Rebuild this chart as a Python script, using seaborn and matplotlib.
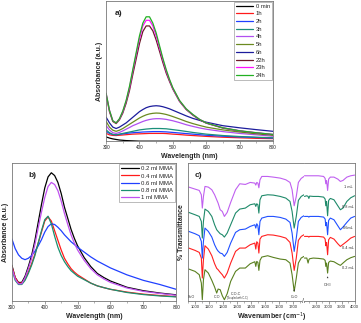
import numpy as np
import pandas as pd
import matplotlib
matplotlib.use("Agg")
import matplotlib.pyplot as plt
from matplotlib.ticker import MultipleLocator
import seaborn as sns

sns.set_theme(style="white")
plt.rcParams["font.family"] = ["Liberation Sans", "DejaVu Sans"]

# ---------------- panel a: UV-vis vs reaction time ----------------
wl_a = [300, 310, 320, 330, 340, 350, 360, 370, 380, 390, 400, 410, 420, 430, 440, 450, 460, 470, 480, 490,
        500, 520, 540, 560, 580, 600, 650, 700, 750, 800]
abs_0min = [0.03, 0.022, 0.016, 0.012, 0.008, 0.006, 0.004, 0.003, 0.002, 0.001] + [0.0] * 20
abs_1h = [0.055, 0.045, 0.041, 0.04, 0.042, 0.044, 0.046, 0.048, 0.05, 0.051, 0.052, 0.053, 0.054, 0.055, 0.055,
          0.055, 0.055, 0.055, 0.054, 0.052, 0.05, 0.047, 0.043, 0.04, 0.037, 0.034, 0.028, 0.024, 0.02, 0.018]
abs_2h = [0.07, 0.055, 0.047, 0.045, 0.048, 0.052, 0.055, 0.058, 0.06, 0.062, 0.063, 0.065, 0.066, 0.067, 0.068,
          0.068, 0.068, 0.067, 0.066, 0.064, 0.062, 0.058, 0.054, 0.05, 0.046, 0.042, 0.035, 0.03, 0.026, 0.022]
abs_3h = [0.08, 0.06, 0.048, 0.045, 0.05, 0.055, 0.06, 0.065, 0.07, 0.075, 0.08, 0.083, 0.086, 0.088, 0.09,
          0.09, 0.09, 0.089, 0.088, 0.085, 0.082, 0.076, 0.069, 0.062, 0.056, 0.05, 0.04, 0.033, 0.028, 0.024]
abs_4h = [0.11, 0.08, 0.06, 0.055, 0.062, 0.073, 0.085, 0.097, 0.11, 0.12, 0.13, 0.14, 0.148, 0.154, 0.158,
          0.16, 0.16, 0.158, 0.155, 0.15, 0.145, 0.132, 0.117, 0.105, 0.094, 0.085, 0.068, 0.055, 0.045, 0.035]
abs_5h = [0.14, 0.10, 0.078, 0.07, 0.078, 0.09, 0.105, 0.12, 0.135, 0.15, 0.165, 0.177, 0.187, 0.194, 0.198,
          0.2, 0.199, 0.195, 0.19, 0.183, 0.175, 0.158, 0.14, 0.125, 0.112, 0.1, 0.08, 0.065, 0.052, 0.042]
abs_6h = [0.17, 0.13, 0.1, 0.09, 0.1, 0.115, 0.13, 0.15, 0.17, 0.19, 0.21, 0.225, 0.238, 0.246, 0.25,
          0.252, 0.25, 0.245, 0.238, 0.23, 0.22, 0.2, 0.18, 0.162, 0.148, 0.135, 0.11, 0.095, 0.082, 0.07]
abs_22h = [0.33, 0.21, 0.14, 0.125, 0.152, 0.2, 0.27, 0.36, 0.475, 0.585, 0.695, 0.78, 0.82, 0.82, 0.785,
           0.72, 0.64, 0.56, 0.485, 0.425, 0.37, 0.283, 0.225, 0.185, 0.152, 0.128, 0.093, 0.072, 0.058, 0.046]
abs_23h = [0.34, 0.22, 0.145, 0.13, 0.158, 0.21, 0.285, 0.38, 0.5, 0.615, 0.73, 0.82, 0.86, 0.86, 0.82,
           0.75, 0.665, 0.58, 0.5, 0.435, 0.375, 0.287, 0.228, 0.188, 0.155, 0.13, 0.095, 0.074, 0.06, 0.048]
abs_24h = [0.34, 0.22, 0.145, 0.13, 0.16, 0.215, 0.29, 0.39, 0.51, 0.63, 0.75, 0.84, 0.885, 0.885, 0.84,
           0.77, 0.68, 0.59, 0.51, 0.44, 0.38, 0.29, 0.23, 0.19, 0.155, 0.13, 0.095, 0.074, 0.06, 0.048]
times = ["0 min", "1h", "2h", "3h", "4h", "5h", "6h", "22h", "23h", "24h"]
colors_a = ["black", "#ff1a1a", "#1f3fff", "#1a8f7a", "#b050f0", "#6b8a20", "#1c1c9c", "#6e1a2a", "#ff10ff", "#22b022"]

# ---------------- panel b: UV-vis vs MMA volume ----------------
wl_b = wl_a
abs_02 = [0.26, 0.17, 0.135, 0.135, 0.18, 0.25, 0.33, 0.44, 0.57, 0.70, 0.82, 0.90, 0.93, 0.91, 0.86,
          0.78, 0.68, 0.60, 0.52, 0.455, 0.40, 0.315, 0.25, 0.20, 0.17, 0.145, 0.10, 0.075, 0.058, 0.045]
abs_04 = [0.25, 0.17, 0.13, 0.13, 0.16, 0.21, 0.27, 0.34, 0.42, 0.50, 0.58, 0.61, 0.58, 0.51, 0.44,
          0.37, 0.31, 0.27, 0.235, 0.21, 0.19, 0.16, 0.13, 0.11, 0.097, 0.085, 0.065, 0.05, 0.04, 0.032]
abs_06 = [0.45, 0.38, 0.335, 0.31, 0.30, 0.31, 0.33, 0.36, 0.40, 0.445, 0.50, 0.54, 0.56, 0.555, 0.535,
          0.51, 0.48, 0.455, 0.43, 0.41, 0.39, 0.355, 0.32, 0.29, 0.265, 0.24, 0.19, 0.15, 0.12, 0.085]
abs_08 = [0.23, 0.15, 0.12, 0.12, 0.15, 0.20, 0.26, 0.33, 0.42, 0.51, 0.59, 0.615, 0.56, 0.47, 0.39,
          0.33, 0.285, 0.25, 0.22, 0.2, 0.18, 0.155, 0.13, 0.11, 0.097, 0.085, 0.062, 0.047, 0.037, 0.03]
abs_10 = [0.24, 0.16, 0.125, 0.125, 0.17, 0.235, 0.31, 0.41, 0.53, 0.645, 0.75, 0.83, 0.86, 0.845, 0.80,
          0.725, 0.635, 0.555, 0.48, 0.42, 0.37, 0.295, 0.235, 0.19, 0.16, 0.135, 0.095, 0.07, 0.055, 0.042]
mma = ["0.2 ml MMA", "0.4 ml MMA", "0.6 ml MMA", "0.8 ml MMA", "1 ml MMA"]
colors_b = ["black", "#ff1a1a", "#2040ff", "#1a9070", "#c050f0"]

# ---------------- panel c: FTIR (offset, arb. units) ----------------
wn_left = [955, 1000, 1030, 1045, 1052, 1060, 1071, 1095, 1120, 1140, 1155, 1165, 1180, 1195, 1210, 1230,
           1255, 1290, 1320, 1360, 1395, 1428, 1435, 1442, 1450, 1457, 1465, 1478, 1520, 1560, 1610, 1650,
           1680, 1695, 1710, 1725, 1740, 1760, 1780]
t_02_left = [102, 95, 85, 60, 10, 70, 100, 90, 68, 48, 30, 42, 40, 22, 10, 28, 65, 95, 105, 105, 118, 124, 110,
             125, 122, 98, 128, 138, 142, 137, 132, 130, 120, 85, 35, 75, 120, 135, 140]
t_04_left = [165, 158, 152, 135, 75, 130, 172, 162, 142, 118, 104, 100, 92, 85, 75, 90, 120, 155, 165, 165, 175,
             180, 162, 184, 180, 150, 192, 200, 205, 204, 200, 195, 182, 150, 98, 135, 188, 200, 205]
t_06_left = [215, 208, 202, 185, 135, 185, 225, 215, 198, 175, 162, 156, 150, 148, 140, 152, 180, 212, 220, 222,
             230, 235, 225, 238, 232, 205, 245, 255, 260, 260, 257, 252, 242, 210, 155, 195, 245, 257, 262]
t_08_left = [272, 265, 260, 245, 195, 245, 282, 275, 260, 235, 220, 215, 208, 205, 198, 210, 235, 270, 282, 285,
             295, 298, 290, 298, 295, 270, 310, 322, 325, 324, 320, 315, 305, 275, 225, 260, 308, 320, 325]
t_10_left = [348, 342, 338, 325, 285, 320, 350, 348, 340, 325, 310, 300, 280, 275, 260, 272, 302, 340, 358, 356,
             362, 360, 354, 362, 360, 346, 370, 380, 380, 378, 375, 370, 362, 340, 292, 320, 362, 374, 380]

wn_right = [2060, 2150, 2200, 2230, 2260, 2400, 2600, 2800, 2860, 2885, 2915, 2955, 2995, 3060, 3200, 3350,
            3450, 3550, 3700, 3850, 4000]
t_02_right = [135, 135, 120, 130, 133, 135, 134, 132, 128, 110, 120, 90, 122, 126, 124, 117, 113, 120, 130, 136, 140]
t_04_right = [200, 200, 200, 198, 200, 200, 200, 198, 192, 172, 182, 145, 190, 197, 192, 178, 170, 176, 185, 195, 200]
t_06_right = [260, 260, 260, 258, 260, 260, 260, 258, 252, 232, 242, 205, 248, 255, 250, 232, 220, 228, 242, 255, 260]
t_08_right = [320, 322, 320, 314, 321, 320, 320, 318, 312, 292, 305, 262, 308, 314, 310, 292, 280, 285, 305, 316, 322]
t_10_right = [382, 382, 382, 382, 382, 382, 382, 380, 374, 358, 368, 338, 372, 378, 378, 372, 365, 368, 378, 382, 384]
samples = ["0.2 mL", "0.4 mL", "0.6mL", "0.8 mL", "1 mL"]
label_pos = [105, 165, 225, 287, 348]
colors_c = ["#5a8020", "#ff2020", "#2050ff", "#1f8a6a", "#c060f0"]

# long-form tables
df_a = pd.concat([pd.DataFrame({"wavelength": wl_a, "absorbance": v, "time": t})
                  for t, v in zip(times, [abs_0min, abs_1h, abs_2h, abs_3h, abs_4h, abs_5h, abs_6h,
                                          abs_22h, abs_23h, abs_24h])])
df_b = pd.concat([pd.DataFrame({"wavelength": wl_b, "absorbance": v, "sample": s})
                  for s, v in zip(mma, [abs_02, abs_04, abs_06, abs_08, abs_10])])
left_vals = [t_02_left, t_04_left, t_06_left, t_08_left, t_10_left]
right_vals = [t_02_right, t_04_right, t_06_right, t_08_right, t_10_right]
df_cl = pd.concat([pd.DataFrame({"wn": wn_left, "T": v, "sample": s}) for s, v in zip(samples, left_vals)])
df_cr = pd.concat([pd.DataFrame({"wn": wn_right, "T": v, "sample": s}) for s, v in zip(samples, right_vals)])

fig = plt.figure(figsize=(3.61, 3.23), dpi=100)
ax_a = fig.add_axes([0.294, 0.563, 0.462, 0.435])
ax_b = fig.add_axes([0.033, 0.068, 0.455, 0.427])
ax_c1 = fig.add_axes([0.521, 0.068, 0.321, 0.427])
ax_c2 = fig.add_axes([0.842, 0.068, 0.141, 0.427])

spine_col = "#777777"
tick_fs = 3.4
lab_fs = 5


def style(ax):
    for s in ax.spines.values():
        s.set_color(spine_col)
        s.set_linewidth(0.6)
    ax.set_yticks([])
    ax.tick_params(axis="x", which="major", direction="out", length=2, width=0.5,
                   labelsize=tick_fs, pad=1, color=spine_col, bottom=True)
    ax.tick_params(axis="x", which="minor", direction="out", length=1.2, width=0.4,
                   color=spine_col, bottom=True)


def small_legend(ax, fs, spacing):
    h, l = ax.get_legend_handles_labels()
    leg = ax.legend(h, l, loc="upper right", fontsize=fs, frameon=True, fancybox=False,
                    borderpad=0.3, labelspacing=spacing, handlelength=3.0, handletextpad=0.4,
                    borderaxespad=0.2)
    leg.get_frame().set_edgecolor("#888888")
    leg.get_frame().set_linewidth(0.5)


# panel a
sns.lineplot(data=df_a, x="wavelength", y="absorbance", hue="time", hue_order=times,
             palette=colors_a, estimator=None, sort=False, lw=0.9, ax=ax_a)
ax_a.set_xlim(300, 800)
ax_a.set_ylim(0, 1)
ax_a.xaxis.set_major_locator(MultipleLocator(100))
ax_a.xaxis.set_minor_locator(MultipleLocator(50))
style(ax_a)
ax_a.set_xlabel("Wavelength (nm)", fontsize=lab_fs, fontweight="bold", labelpad=2)
ax_a.set_ylabel("Absorbance (a.u.)", fontsize=lab_fs, fontweight="bold", labelpad=2)
ax_a.text(0.05, 0.9, "a)", transform=ax_a.transAxes, fontsize=6, fontweight="bold")
small_legend(ax_a, 4.2, 0.45)

# panel b
sns.lineplot(data=df_b, x="wavelength", y="absorbance", hue="sample", hue_order=mma,
             palette=colors_b, estimator=None, sort=False, lw=0.9, ax=ax_b)
ax_b.set_xlim(300, 800)
ax_b.set_ylim(0, 1)
ax_b.xaxis.set_major_locator(MultipleLocator(100))
ax_b.xaxis.set_minor_locator(MultipleLocator(50))
style(ax_b)
ax_b.set_xlabel("Wavelength (nm)", fontsize=lab_fs, fontweight="bold", labelpad=2)
ax_b.set_ylabel("Absorbance (a.u.)", fontsize=lab_fs, fontweight="bold", labelpad=2)
ax_b.text(0.1, 0.9, "b)", transform=ax_b.transAxes, fontsize=6, fontweight="bold")
small_legend(ax_b, 4.3, 0.35)

# panel c (broken x axis)
for ax, df in [(ax_c1, df_cl), (ax_c2, df_cr)]:
    sns.lineplot(data=df, x="wn", y="T", hue="sample", hue_order=samples, palette=colors_c,
                 estimator=None, sort=False, lw=0.8, ax=ax, legend=False)
    ax.set_ylim(6, 420)
    style(ax)
    ax.tick_params(axis="x", labelsize=3.0)
    ax.set_xlabel("")
    ax.set_ylabel("")
ax_c1.set_xlim(950, 1780)
ax_c1.set_xticks(range(1000, 1701, 100))
ax_c1.xaxis.set_minor_locator(MultipleLocator(50))
ax_c2.set_xlim(2040, 4010)
ax_c2.set_xticks([2500, 3000, 3500, 4000])
ax_c2.xaxis.set_minor_locator(MultipleLocator(250))
ax_c1.spines["right"].set_visible(False)
ax_c2.spines["left"].set_visible(False)
ax_c1.text(1.0, 0.0, "//", transform=ax_c1.transAxes, ha="center", va="center", fontsize=5,
           color="#444444", bbox=dict(facecolor="white", edgecolor="none", pad=0.3))
ax_c1.set_ylabel("% Transmittance", fontsize=lab_fs, fontweight="bold", labelpad=2)
fig.text(0.752, 0.012, "Wavenumber (cm$^{-1}$)", fontsize=lab_fs, fontweight="bold", ha="center")
ax_c1.text(0.06, 0.9, "c)", transform=ax_c1.transAxes, fontsize=6, fontweight="bold")

for s, y in zip(samples, label_pos):
    ax_c2.text(3750, y, s, fontsize=2.8, ha="center", va="center", color="#333333")

ann = dict(fontsize=2.6, color="#333333", ha="center")
ax_c1.text(975, 14, "S=O", **ann)
ax_c1.text(1155, 14, "C-O", **ann)
ax_c1.text(1290, 24, "C-O-C", **ann)
ax_c1.text(1300, 12, "(coupled with C-C)", fontsize=1.8, color="#333333", ha="center")
ax_c1.annotate("", xy=(1215, 14), xytext=(1260, 26),
               arrowprops=dict(arrowstyle="-", lw=0.3, color="#333333"))
ax_c1.text(1710, 14, "C=O", **ann)
ax_c1.annotate("", xy=(1710, 42), xytext=(1710, 30),
               arrowprops=dict(arrowstyle="-|>", lw=0.3, color="#333333", mutation_scale=2))
ax_c2.text(2955, 50, "CH$_3$", **ann)
ax_c2.annotate("", xy=(2955, 80), xytext=(2955, 68),
               arrowprops=dict(arrowstyle="-|>", lw=0.3, color="#333333", mutation_scale=2))

fig.savefig("out.png", dpi=100)
